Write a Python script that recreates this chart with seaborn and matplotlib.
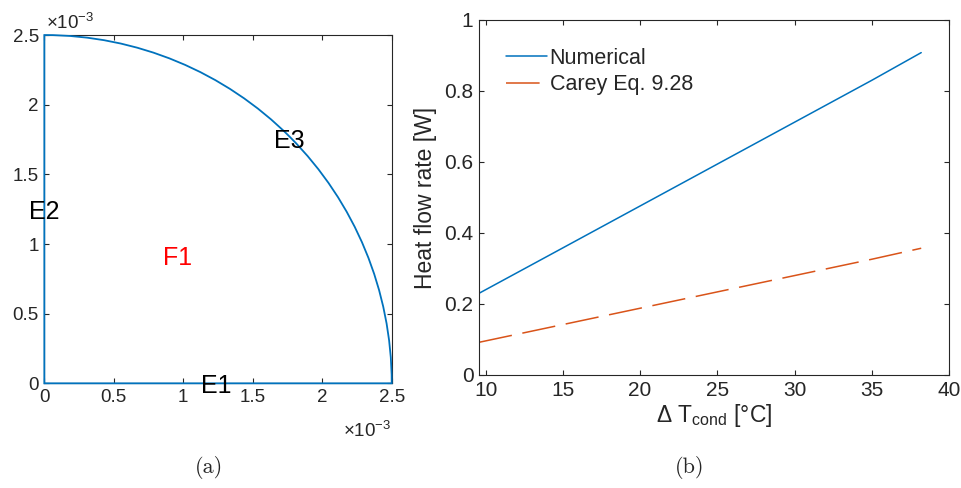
import numpy as np
import pandas as pd
import matplotlib
matplotlib.use("Agg")
import matplotlib.pyplot as plt
from matplotlib.patches import Wedge
import seaborn as sns

# =========================
# DATA
# =========================
# panel (a): quarter disc geometry
radius = 2.5e-3
edge_names = ["E1", "E2", "E3"]
edge_x = [1.24e-3, 0.0, 1.76e-3]
edge_y = [-0.02e-3, 1.23e-3, 1.74e-3]
face_name = "F1"
face_xy = [0.96e-3, 0.90e-3]
geo_ticks = [0, 0.5e-3, 1.0e-3, 1.5e-3, 2.0e-3, 2.5e-3]
geo_ticklabels = ["0", "0.5", "1", "1.5", "2", "2.5"]

# panel (b): heat flow rate vs condenser temperature difference
dt_cond = [9.57, 15, 20, 25, 30, 35, 38.2]
q_numerical = [0.230, 0.358, 0.476, 0.594, 0.712, 0.830, 0.908]
q_carey = [0.092, 0.142, 0.188, 0.234, 0.280, 0.326, 0.357]
series_names = ["Numerical", "Carey Eq. 9.28"]
xticks_b = [10, 15, 20, 25, 30, 35, 40]
yticks_b = [0, 0.2, 0.4, 0.6, 0.8, 1]
yticklabels_b = ["0", "0.2", "0.4", "0.6", "0.8", "1"]

df = pd.DataFrame({
    "dT": dt_cond * 2,
    "Q": q_numerical + q_carey,
    "serie": [series_names[0]] * len(dt_cond) + [series_names[1]] * len(dt_cond),
})

# =========================
# STYLE
# =========================
sns.set_style("ticks")
plt.rcParams["font.family"] = ["Liberation Sans", "DejaVu Sans"]
plt.rcParams["mathtext.fontset"] = "custom"
plt.rcParams["mathtext.rm"] = "Liberation Sans"

dark = "#262626"
blue = "#0072BD"
orange = "#D95319"

fig = plt.figure(figsize=(9.62, 4.88), dpi=100)
ax1 = fig.add_axes([0.0461, 0.2145, 0.3611, 0.7137])
ax2 = fig.add_axes([0.4979, 0.2316, 0.4886, 0.7275])

for ax in (ax1, ax2):
    for s in ax.spines.values():
        s.set_color(dark)
        s.set_linewidth(0.8)
    ax.tick_params(direction="in", length=3.5, width=0.8, colors=dark,
                   top=True, right=True)

# =========================
# PANEL (a)
# =========================
wedge = Wedge((0, 0), radius, 0, 90, fill=False, ec=blue, lw=1.3,
              zorder=5, clip_on=False)
ax1.add_patch(wedge)
ax1.set_xlim(0, radius)
ax1.set_ylim(0, radius)
ax1.set_xticks(geo_ticks)
ax1.set_xticklabels(geo_ticklabels)
ax1.set_yticks(geo_ticks)
ax1.set_yticklabels(geo_ticklabels)
ax1.tick_params(labelsize=13.5, pad=4)

for name, x, y in zip(edge_names, edge_x, edge_y):
    ax1.text(x, y, name, fontsize=18, ha="center", va="center",
             color="black", zorder=6)
ax1.text(face_xy[0], face_xy[1], face_name, fontsize=18, ha="center",
         va="center", color="red", zorder=6)

ax1.text(0.005, 1.005, r"$\times$10$^{\mathregular{-3}}$", transform=ax1.transAxes,
         fontsize=13.5, ha="left", va="bottom", color=dark)
ax1.text(1.0, -0.105, r"$\times$10$^{\mathregular{-3}}$", transform=ax1.transAxes,
         fontsize=13.5, ha="right", va="top", color=dark)

# =========================
# PANEL (b)
# =========================
sns.lineplot(data=df, x="dT", y="Q", hue="serie", style="serie",
             palette={series_names[0]: blue, series_names[1]: orange},
             dashes={series_names[0]: "", series_names[1]: (22, 7)},
             linewidth=1.1, legend=False, ax=ax2)

ax2.set_xlim(9.57, 40)
ax2.set_ylim(0, 1)
ax2.set_xticks(xticks_b)
ax2.set_yticks(yticks_b)
ax2.set_yticklabels(yticklabels_b)
ax2.tick_params(labelsize=15, pad=4)
ax2.set_xlabel(r"Δ T$_{\mathregular{cond}}$ [°C]", fontsize=16.5, color=dark, labelpad=2)
ax2.set_ylabel("Heat flow rate [W]", fontsize=16.5, color=dark, labelpad=5)

ax2.legend(ax2.lines[:2], series_names, loc="upper left", frameon=False,
           fontsize=15.5, handlelength=1.9, handletextpad=0.15,
           labelspacing=0.25, borderaxespad=0.4, bbox_to_anchor=(0.02, 0.97))

# captions
fig.text(0.217, 0.043, "(a)", fontsize=16, family="cmr10", ha="center", va="center")
fig.text(0.717, 0.043, "(b)", fontsize=16, family="cmr10", ha="center", va="center")

fig.savefig("out.png", dpi=100)
